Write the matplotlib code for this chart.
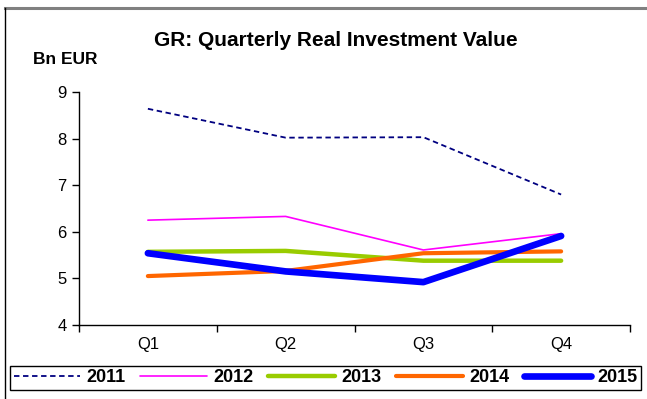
import matplotlib.pyplot as plt
from matplotlib.lines import Line2D

plt.rcParams['font.family'] = ['Liberation Sans', 'DejaVu Sans']

# ===== DATA =====
quarters = ['Q1', 'Q2', 'Q3', 'Q4']
years = ['2011', '2012', '2013', '2014', '2015']
v2011 = [8.64, 8.02, 8.03, 6.80]
v2012 = [6.25, 6.33, 5.61, 5.96]
v2013 = [5.57, 5.59, 5.38, 5.38]
v2014 = [5.05, 5.16, 5.54, 5.58]
v2015 = [5.54, 5.15, 4.92, 5.91]

series = [v2011, v2012, v2013, v2014, v2015]
colors = ['#000080', '#FF00FF', '#99CC00', '#FF6600', '#0000FF']
widths = [1.3, 1.2, 3.2, 3.0, 4.8]
styles = [(0, (3, 2)), '-', '-', '-', '-']

W, H = 647, 399
fig = plt.figure(figsize=(W / 100, H / 100), dpi=100)

# outer frame: grey top rule and black left rule
fig.add_artist(Line2D([5 / W, 1], [1 - 8 / H, 1 - 8 / H], color='#808080', lw=2.2))
fig.add_artist(Line2D([5 / W, 5 / W], [0, 1 - 8 / H], color='black', lw=1.0))

ax = fig.add_axes([79 / W, 1 - 325 / H, (630 - 79) / W, (325 - 92) / H])

x = range(len(quarters))
handles = []
for vals, yr, c, lw, ls in zip(series, years, colors, widths, styles):
    h, = ax.plot(x, vals, color=c, lw=lw, linestyle=ls, label=yr,
                 solid_capstyle='round')
    handles.append(h)

ax.set_xlim(-0.5, 3.5)
ax.set_ylim(4, 9)
ax.set_yticks(range(4, 10))
ax.set_xticks(list(x))
ax.set_xticklabels(quarters)
ax.set_xticks([-0.5, 0.5, 1.5, 2.5, 3.5], minor=True)
ax.tick_params(axis='x', which='major', length=0, pad=9, labelsize=12)
ax.tick_params(axis='x', which='minor', length=5, width=1, direction='out')
ax.tick_params(axis='y', length=5, width=1, pad=4, labelsize=12)
for s in ['top', 'right']:
    ax.spines[s].set_visible(False)
for s in ['left', 'bottom']:
    ax.spines[s].set_linewidth(1.0)

fig.text(336 / W, 1 - 40 / H, 'GR: Quarterly Real Investment Value',
         ha='center', va='center', fontsize=15, fontweight='bold')
fig.text(33 / W, 1 - 59 / H, 'Bn EUR', ha='left', va='center',
         fontsize=12.5, fontweight='bold')

leg = fig.legend(handles=handles, loc='lower left', ncol=5, mode='expand',
                 bbox_to_anchor=(10 / W, 9 / H, (641 - 10) / W, 24 / H),
                 borderaxespad=0, handlelength=3.7, handletextpad=0.35,
                 columnspacing=0.8, fancybox=False, framealpha=1,
                 edgecolor='black', prop={'weight': 'bold', 'size': 13},
                 borderpad=0.2)
leg.get_frame().set_linewidth(1.0)

fig.savefig('out.png', dpi=100)
